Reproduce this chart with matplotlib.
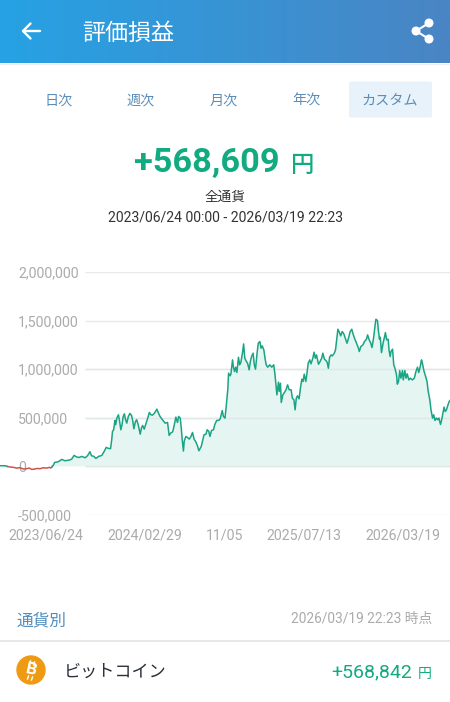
import numpy as np
import matplotlib
matplotlib.use("Agg")
import matplotlib.pyplot as plt
from matplotlib.patches import FancyBboxPatch, Circle

plt.rcParams['font.family'] = ['Roboto', 'Noto Sans CJK JP', 'DejaVu Sans']

# days from the 2023/06/24 label position, values in thousand yen
days = [-116, -103, -98, -95, -82, -74, -65, -57, -49, -42, -36, -28, -22, -15, -7, 2, 9, 12, 15, 16, 19, 22,
        31, 40, 48, 59, 65, 71, 78, 84, 90, 99, 105, 111, 115, 121, 126, 133, 141, 147, 152, 158, 163, 166,
        168, 171, 174, 176, 179, 183, 186, 189, 192, 195, 198, 201, 204, 208, 212, 216, 219, 222, 226, 229,
        233, 238, 241, 244, 248, 253, 257, 261, 265, 269, 274, 280, 284, 288, 294, 301, 307, 311, 315, 320,
        324, 328, 332, 335, 339, 342, 344, 347, 349, 353, 357, 362, 366, 370, 374, 379, 383, 386, 392, 396,
        399, 404, 407, 411, 414, 418, 423, 426, 431, 436, 440, 445, 448, 452,
        455, 459, 461, 465, 467, 471, 473, 476, 479, 482, 486, 489, 492, 496, 499, 502, 506, 509, 513, 516,
        519, 523, 526, 529, 533, 536, 540, 543, 546, 550, 553, 556, 560, 565, 570, 575, 578, 581, 583, 587,
        589, 592, 594, 598, 602, 606, 610, 614, 619, 622, 626, 629, 632, 635, 639, 643, 646, 649, 652, 656,
        659, 662, 666, 669, 673, 677, 680, 683, 688, 692, 696, 699, 703, 707, 710, 713, 716, 720, 723, 728,
        731, 735, 737, 741, 744, 748, 752, 757, 760, 763, 768, 772, 776, 780, 784, 789, 791, 795, 800, 804,
        809, 812, 816, 820, 823, 827, 831, 833, 837, 839, 842, 844, 847, 851, 854, 857, 860, 864, 866, 869,
        871, 875, 878, 881, 885, 887, 890, 893, 896, 900, 902, 906, 909, 912, 916, 920, 925, 930, 934, 938,
        941, 944, 948, 950, 954, 958, 962, 965, 969, 972, 976, 979, 982, 986, 989, 992, 996, 999, 1002, 1005,
        1008, 1011, 1015, 1018, 1020]
values = [7, 7, 0, -3, -10, -17, -14, -27, -24, -17, -31, -27, -21, -24, -14, -17, -10, -17, -7, 0, 14, 41,
          48, 72, 58, 65, 75, 113, 96, 92, 103, 89, 110, 151, 110, 103, 82, 103, 113, 154, 195, 185, 182, 274,
          360, 377, 473, 428, 497, 531, 462, 377, 428, 514, 541, 480, 445, 514, 545, 524, 473, 387, 462, 480,
          428, 332, 394, 421, 384, 445, 497, 555, 531, 527, 548, 589, 548, 514, 480, 445, 452, 319, 343, 356,
          428, 507, 452, 514, 497, 377, 274, 158, 257, 308, 298, 281, 308, 349, 281, 247, 205, 161, 205, 274,
          325, 332, 377, 360, 308, 370, 377, 428, 473, 473, 490, 575, 514, 497,
          616, 788, 959, 932, 952, 1096, 1027, 976, 1021, 966, 1123, 1045, 1069, 1165, 1260, 1113, 1079, 1062, 993, 1079,
          1130, 1165, 1045, 1000, 1165, 1267, 1284, 1216, 1240, 1199, 1113, 1045, 1021, 1045, 1021, 1045, 952, 822, 736, 867,
          771, 856, 658, 736, 760, 788, 839, 788, 788, 702, 685, 582, 702, 726, 695, 822, 897, 873, 949, 873,
          959, 1062, 1096, 1055, 1103, 1175, 1113, 1147, 1051, 1079, 1113, 1165, 1103, 1089, 1069, 1010, 1123, 1147, 1137, 1165,
          1199, 1343, 1411, 1377, 1343, 1387, 1363, 1302, 1267, 1308, 1387, 1411, 1353, 1308, 1267, 1216, 1182, 1233, 1250, 1284,
          1308, 1353, 1302, 1267, 1223, 1319, 1456, 1514, 1500, 1404, 1308, 1329, 1171, 1267, 1319, 1377, 1302, 1308, 1199, 1130,
          1182, 1206, 1045, 1010, 942, 846, 873, 986, 908, 986, 890, 986, 908, 952, 890, 908, 890, 908, 976, 1021,
          966, 1010, 1096, 1069, 986, 932, 873, 771, 685, 582, 497, 531, 473, 497, 480, 497, 432, 480, 548, 610,
          565, 582, 634, 668, 678]

y_ticks = [-500, 0, 500, 1000, 1500, 2000]
y_labels = ["-500,000", "0", "500,000", "1,000,000", "1,500,000", "2,000,000"]
x_ticks = [0, 250, 452, 651, 901]
x_labels = ["2023/06/24", "2024/02/29", "11/05", "2025/07/13", "2026/03/19"]
tabs = ["日次", "週次", "月次", "年次", "カスタム"]
tab_x = [59, 141, 224, 306, 390]

GREEN = "#12aa80"
LINE = "#1ba484"
BLUE = "#5b8db8"
GREY = "#ababab"

fig = plt.figure(figsize=(4.5, 7.02), dpi=100, facecolor="white")

# page furniture, in pixel coordinates
ui = fig.add_axes([0, 0, 1, 1])
ui.set_xlim(0, 450)
ui.set_ylim(702, 0)
ui.axis("off")

grad = np.linspace(0, 1, 256).reshape(1, -1, 1)
c0 = np.array([38, 162, 228]) / 255
c1 = np.array([74, 133, 196]) / 255
ui.imshow(c0 + (c1 - c0) * grad, extent=[0, 450, 63, 0], aspect="auto", zorder=1)
ui.set_xlim(0, 450)
ui.set_ylim(702, 0)
ui.plot([0, 450], [63.5, 63.5], color="#eeeeee", lw=0.8, zorder=0.5)

# back arrow
ui.plot([23, 40], [31, 31], color="white", lw=1.7, solid_capstyle="round", zorder=2)
ui.plot([30.5, 23, 30.5], [23.5, 31, 38.5], color="white", lw=1.7, solid_capstyle="round", zorder=2)
ui.text(82, 33, "評価損益", color="white", fontsize=16.6, va="center", ha="left", zorder=2)

# share icon
ui.plot([429, 416, 429], [23, 31, 39], color="white", lw=1.5, zorder=2)
for cx, cy in [(429, 23), (416, 31), (429, 39)]:
    ui.add_patch(Circle((cx, cy), 3.8, color="white", zorder=2))

ui.add_patch(FancyBboxPatch((349, 81.5), 83, 36, boxstyle="round,pad=0,rounding_size=2",
                            fc="#e8f2fa", ec="none", zorder=1))
for x, t in zip(tab_x, tabs):
    ui.text(x, 100.5, t, color=BLUE, fontsize=10.2, ha="center", va="center", zorder=2)

ui.text(134, 163, "+568,609", color=GREEN, fontsize=24.7, fontweight="bold", ha="left", va="center", zorder=2)
ui.text(303, 165, "円", color=GREEN, fontsize=16.8, fontweight="medium", ha="center", va="center", zorder=2)
ui.text(225, 197, "全通貨", color="#333333", fontsize=9.8, ha="center", va="center", zorder=2)
ui.text(225, 218, "2023/06/24 00:00 - 2026/03/19 22:23", color="#333333", fontsize=10.05, ha="center", va="center", zorder=2)

ui.text(17, 621, "通貨別", color="#4f8fc0", fontsize=12, ha="left", va="center", zorder=2)
ui.text(432, 619, "2026/03/19 22:23 時点", color=GREY, fontsize=9.95, ha="right", va="center", zorder=2)
ui.plot([0, 450], [641, 641], color="#e8e8e8", lw=1.4, zorder=1)

# bitcoin badge, no installed font has the sign
ui.add_patch(Circle((31, 670), 14, color="#ee9a12", zorder=2))
ui.text(31, 670, "B", color="white", fontsize=12.5, fontweight="bold", rotation=-12,
        ha="center", va="center", zorder=3)
ui.plot([30.5, 29.5], [661, 664], color="white", lw=1, zorder=3)
ui.plot([34.5, 33.5], [662, 665], color="white", lw=1, zorder=3)
ui.plot([28.5, 27.5], [676, 679], color="white", lw=1, zorder=3)
ui.plot([32.5, 31.5], [677, 680], color="white", lw=1, zorder=3)

ui.text(64, 672, "ビットコイン", color="#2b3038", fontsize=12.3, ha="left", va="center", zorder=2)
ui.text(412, 672, "+568,842", color=GREEN, fontsize=14, ha="right", va="center", zorder=2)
ui.text(425, 674, "円", color=GREEN, fontsize=10, ha="center", va="center", zorder=2)

# chart, full figure width so the line runs under the y labels
ax = fig.add_axes([0, (702 - 515) / 702, 1, (515 - 272) / 702])
ax.patch.set_alpha(0)
ax.set_xlim(-116, 1020)
ax.set_ylim(-500, 2000)
for s in ax.spines.values():
    s.set_visible(False)

d = np.array(days)
v = np.array(values)
ax.hlines(y_ticks, 99, 1020, color="#e9e9e9", lw=1, zorder=1)
ax.fill_between(d, 0, v, where=v >= 0, color="#e5f5f1", lw=0, zorder=2, interpolate=True)
ax.hlines([0, 500, 1000], 99, 1020, color="#dfe8e6", lw=1, zorder=2.5)
ax.plot(d, np.ma.masked_where(v > 0, v), color="#c9564f", lw=1.1, zorder=3)
ax.plot(d, np.ma.masked_where(v < 0, v), color=LINE, lw=1.1, zorder=3)

ax.set_yticks(y_ticks, y_labels)
ax.set_xticks(x_ticks, x_labels)
ax.tick_params(axis="y", length=0, pad=-13, labelsize=10.2, labelcolor=GREY)
ax.tick_params(axis="x", length=0, pad=10, labelsize=10.2, labelcolor=GREY)
for lab in ax.get_yticklabels():
    lab.set_ha("left")

fig.savefig("out.png", dpi=100)
